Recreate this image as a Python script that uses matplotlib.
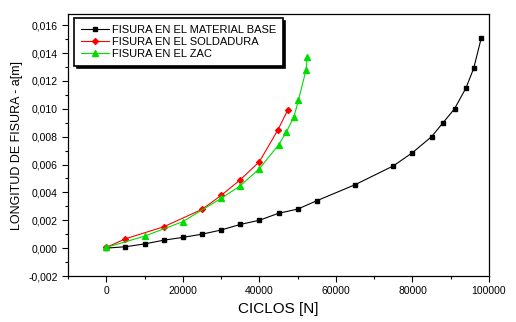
import matplotlib
matplotlib.use("Agg")
import matplotlib.pyplot as plt
from matplotlib.ticker import MultipleLocator, FuncFormatter

plt.rcParams['font.family'] = ['Liberation Sans', 'DejaVu Sans']

# fisura en el material base
ciclos_base = [0, 5000, 10000, 15000, 20000, 25000, 30000, 35000, 40000, 45000,
               50000, 55000, 65000, 75000, 80000, 85000, 88000, 91000, 94000,
               96000, 98000]
a_base = [0.0, 0.0001, 0.0003, 0.00057, 0.00077, 0.001, 0.0013, 0.0017, 0.002,
          0.0025, 0.0028, 0.0034, 0.00455, 0.0059, 0.00685, 0.008, 0.009,
          0.0100, 0.0115, 0.0129, 0.0151]

# fisura en el soldadura
ciclos_sold = [0, 5000, 15000, 25000, 30000, 35000, 40000, 44800, 47400]
a_sold = [0.00005, 0.00067, 0.00153, 0.00278, 0.00378, 0.0049, 0.0062, 0.00846, 0.0099]

# fisura en el ZAC
ciclos_zac = [0, 10000, 20000, 30000, 35000, 40000, 45000, 47000, 49000, 50200, 52200, 52500]
a_zac = [0.00005, 0.00086, 0.0019, 0.00357, 0.00447, 0.0057, 0.0074, 0.0083, 0.0094,
         0.0106, 0.0128, 0.01368]

fig = plt.figure(figsize=(5.16, 3.22), dpi=100)
ax = fig.add_axes([68/516, 1 - 276/322, (489-68)/516, (276-14)/322])

ax.plot(ciclos_base, a_base, color='black', marker='s', markersize=3.5, linewidth=0.8,
        label='FISURA EN EL MATERIAL BASE')
ax.plot(ciclos_sold, a_sold, color='red', marker='D', markersize=3, linewidth=0.8,
        label='FISURA EN EL SOLDADURA')
ax.plot(ciclos_zac, a_zac, color='#00dd00', marker='^', markersize=5, linewidth=0.8,
        label='FISURA EN EL ZAC')

ax.set_xlim(-10000, 100000)
ax.set_ylim(-0.002, 0.0168)
ax.xaxis.set_major_locator(MultipleLocator(20000))
ax.xaxis.set_minor_locator(MultipleLocator(10000))
ax.yaxis.set_major_locator(MultipleLocator(0.002))
ax.yaxis.set_minor_locator(MultipleLocator(0.001))
ax.yaxis.set_major_formatter(FuncFormatter(lambda v, p: ('%.3f' % v).replace('.', ',').replace('-0,000', '0,000')))
ax.xaxis.set_major_formatter(FuncFormatter(lambda v, p: '%d' % v))
ax.tick_params(which='both', direction='out', top=False, right=False, labelsize=7.5, width=0.8)
ax.tick_params(which='major', length=4)
ax.tick_params(which='minor', length=2.5)
for s in ax.spines.values():
    s.set_linewidth(0.9)

ax.set_xlabel('CICLOS [N]', fontsize=11, labelpad=4)
ax.set_ylabel('LONGITUD DE FISURA - a[m]', fontsize=9)

leg = ax.legend(loc='upper left', bbox_to_anchor=(0.014, 0.985), borderaxespad=0,
                fancybox=False, shadow={'color': 'black', 'alpha': 1},
                edgecolor='black', fontsize=8, handlelength=2.6, handletextpad=0.2,
                labelspacing=0.2, borderpad=0.6, framealpha=1)
leg.get_frame().set_linewidth(1.2)

fig.savefig('out.png', dpi=100)
